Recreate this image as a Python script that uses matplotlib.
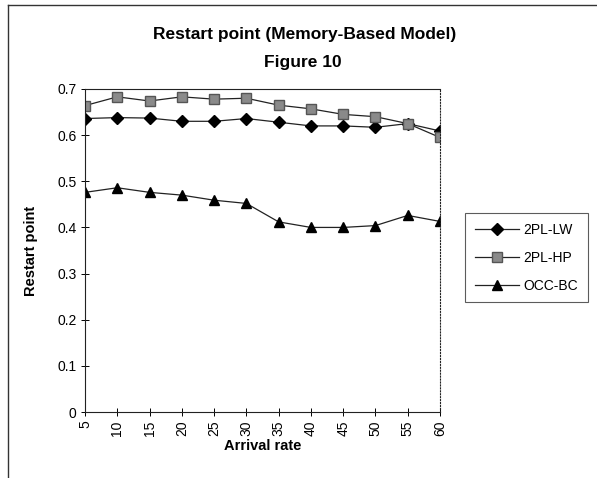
import matplotlib
matplotlib.use("Agg")
import matplotlib.pyplot as plt
from matplotlib.lines import Line2D

plt.rcParams['font.family'] = ['Liberation Sans', 'DejaVu Sans']

# Datos
arrival_rate = [5, 10, 15, 20, 25, 30, 35, 40, 45, 50, 55, 60]
pl_lw = [0.636, 0.638, 0.637, 0.630, 0.630, 0.636, 0.628, 0.620, 0.620, 0.617, 0.625, 0.609]
pl_hp = [0.664, 0.683, 0.674, 0.683, 0.678, 0.680, 0.665, 0.657, 0.645, 0.640, 0.625, 0.595]
occ_bc = [0.476, 0.486, 0.476, 0.470, 0.459, 0.452, 0.412, 0.400, 0.400, 0.404, 0.426, 0.413]
y_ticks = [0, 0.1, 0.2, 0.3, 0.4, 0.5, 0.6, 0.7]

W, H = 597, 478
fig = plt.figure(figsize=(W / 100, H / 100), dpi=100)
ax = fig.add_axes([85 / W, 1 - 412 / H, (440 - 85) / W, (412 - 89) / H])

ax.plot(arrival_rate, pl_lw, color='#222222', lw=0.9, marker='D', ms=6,
        mfc='black', mec='black', label='2PL-LW')
ax.plot(arrival_rate, pl_hp, color='#222222', lw=0.9, marker='s', ms=7,
        mfc='#8a8a8a', mec='#555555', label='2PL-HP')
ax.plot(arrival_rate, occ_bc, color='#222222', lw=0.9, marker='^', ms=7.5,
        mfc='black', mec='black', label='OCC-BC')

ax.set_xlim(5, 60)
ax.set_ylim(0, 0.7)
ax.set_xticks(arrival_rate)
ax.set_xticklabels([str(v) for v in arrival_rate], rotation=90, fontsize=10)
ax.set_yticks(y_ticks)
ax.set_yticklabels(['0'] + [f"{v:.1f}" for v in y_ticks[1:]], fontsize=10)
ax.tick_params(direction='inout', length=6, width=0.7, pad=3)

for s in ax.spines.values():
    s.set_linewidth(0.8)
    s.set_color('#222222')
ax.spines['right'].set_linestyle(':')

ax.set_xlabel('Arrival rate', fontweight='bold', fontsize=10.5, labelpad=2)
ax.set_ylabel('Restart point', fontweight='bold', fontsize=10.5, labelpad=14)

fig.text(305 / W, 1 - 35 / H, 'Restart point (Memory-Based Model)',
         ha='center', va='center', fontweight='bold', fontsize=12.5)
fig.text(303 / W, 1 - 62 / H, 'Figure 10',
         ha='center', va='center', fontweight='bold', fontsize=12.5)

leg = ax.legend(loc='upper left', bbox_to_anchor=(465 / W, 1 - 213 / H),
                bbox_transform=fig.transFigure, fontsize=10, frameon=True,
                fancybox=False, edgecolor='#333333', handlelength=3.2,
                handletextpad=0.3, labelspacing=1.0, borderpad=0.7,
                borderaxespad=0)
leg.get_frame().set_linewidth(0.8)

# Borde del recuadro escaneado
fig.add_artist(Line2D([8 / W, 1], [1 - 5 / H, 1 - 5 / H], color='#333333', lw=1,
                      transform=fig.transFigure))
fig.add_artist(Line2D([8 / W, 8 / W], [0, 1 - 5 / H], color='#333333', lw=1,
                      transform=fig.transFigure))

fig.savefig('out.png', dpi=100)
